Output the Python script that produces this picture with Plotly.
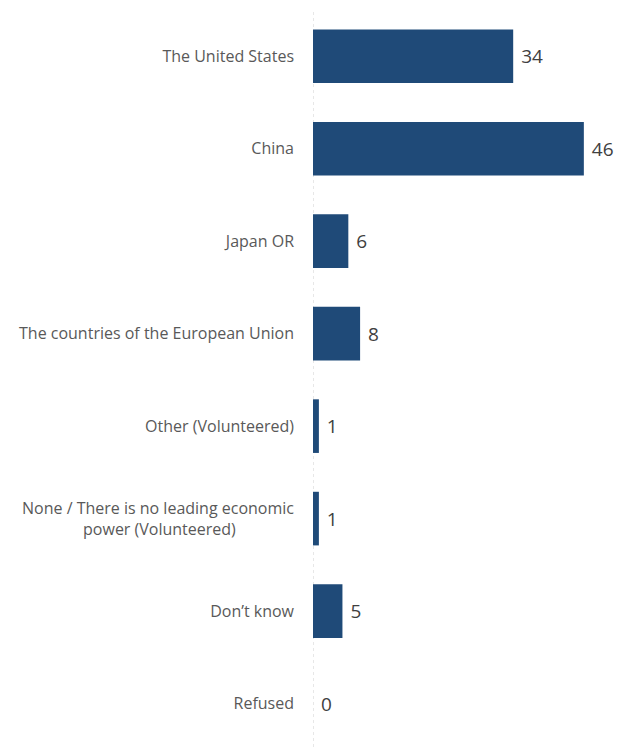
import plotly.graph_objects as go

NB = "\u00a0"
categories = [
    "The United States",
    "China",
    "Japan OR",
    "The countries of the European Union",
    "Other (Volunteered)",
    "None / There is no leading economic<br>power (Volunteered)" + NB * 14,
    "Don\u2019t know",
    "Refused",
]
values = [34, 46, 6, 8, 1, 1, 5, 0]

fig = go.Figure(
    go.Bar(
        y=categories,
        x=values,
        orientation="h",
        marker=dict(color="#1F4A78", line=dict(width=0)),
        text=[" " + str(v) for v in values],
        textposition="outside",
        textfont=dict(family="Open Sans", size=19, color="#404040"),
        cliponaxis=False,
        width=0.58,
        hoverinfo="skip",
    )
)

fig.add_shape(
    type="line", xref="x", yref="paper", x0=0, x1=0, y0=0, y1=1,
    line=dict(color="#D0D0D0", width=1, dash="dot"), layer="below",
)

fig.update_layout(
    width=618,
    height=747,
    margin=dict(l=313, r=0, t=10, b=0),
    paper_bgcolor="white",
    plot_bgcolor="white",
    showlegend=False,
    font=dict(family="Open Sans", size=16, color="#595959"),
    xaxis=dict(range=[0, 51.8], visible=False, showgrid=False, zeroline=False),
    yaxis=dict(
        range=[7.47, -0.5],
        showgrid=False,
        zeroline=False,
        showline=False,
        ticks="",
        ticklabelstandoff=18,
        tickfont=dict(family="Open Sans", size=16, color="#595959"),
    ),
)

fig.write_html(
    "out.html",
    config={"displayModeBar": False, "staticPlot": True},
    post_script="document.body.style.margin='0';document.body.style.overflow='hidden';",
)
